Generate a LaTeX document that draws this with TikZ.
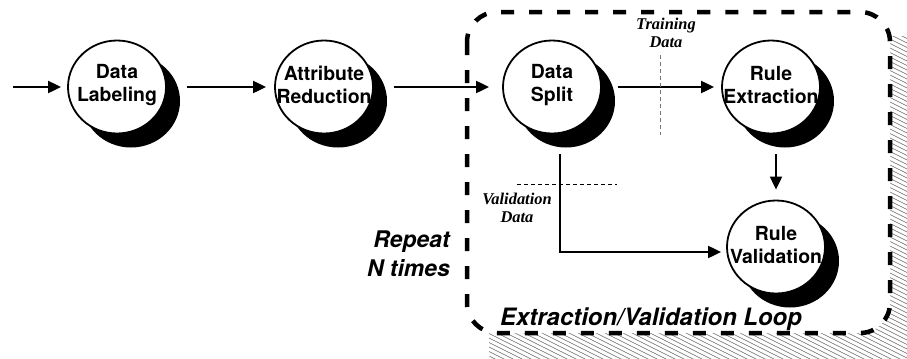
\documentclass[tikz,border=0pt]{standalone}
\usepackage{fontspec}
\setmainfont{TeX Gyre Heros}
\newfontfamily\timesfam{Liberation Serif}
\usetikzlibrary{arrows.meta,shapes.geometric,shadows}
\tikzset{
  proc/.style={ellipse, draw, line width=1.8bp, fill=white,
    minimum width=98bp, minimum height=93bp, inner sep=0pt,
    drop shadow={shadow xshift=14bp, shadow yshift=-14bp, fill=black, opacity=1}},
  proctext/.style={align=center, inner sep=0pt, font=\fontsize{19.5}{23}\selectfont\bfseries},
  arr/.style={line width=2bp, -{Triangle[length=13bp,width=12bp]}},
  datalabel/.style={align=center, inner sep=0pt, font=\timesfam\fontsize{16.5}{18.5}\selectfont\bfseries\itshape},
  thindash/.style={line width=0.8bp, dash pattern=on 4bp off 3bp},
  loopbox/.style={line width=4.5bp, dash pattern=on 13bp off 15bp, rounded corners=30bp, fill=white},
  hatchline/.style={black!60, line width=0.6bp},
  bigitalic/.style={inner sep=0pt, font=\fontsize{23}{29}\selectfont\bfseries\itshape}
}
\begin{document}
\begin{tikzpicture}[x=1bp,y=-1bp]
\useasboundingbox (0,0) rectangle (907,358);

% hatched shadow of loop box
\begin{scope}
  \clip[rounded corners=30bp] (489,36) rectangle (930,380);
  \foreach \c in {-460,-455.5,...,140}
    \draw[hatchline] (470,{0.5*470+\c}) -- (930,{0.5*930+\c});
\end{scope}

% loop box
\draw[loopbox] (467,12) rectangle (890,333);

% process nodes
\node[proc] (DL) at (117,87) {};
\node[proc] (AR) at (324,87) {};
\node[proc] (DS) at (552,87) {};
\node[proc] (RE) at (771,87) {};
\node[proc] (RV) at (776,247) {};

\node[proctext] (DLt) at (117,85) {Data\\Labeling};
\node[proctext] (ARt) at (324,85) {Attribute\\Reduction};
\node[proctext] (DSt) at (552,85) {Data\\Split};
\node[proctext] (REt) at (771,85) {Rule\\Extraction};
\node[proctext] (RVt) at (776,245) {Rule\\Validation};

% connectors
\coordinate (start) at (13,87);
\draw[arr, shorten >=6bp] (start) -- (DL.west);
\draw[arr, shorten <=20bp, shorten >=8bp] (DL.east) -- (AR.west);
\draw[arr, shorten <=20bp, shorten >=13bp] (AR.east) -- (DS.west);
\draw[arr, shorten <=16bp, shorten >=7bp] (DS.east) -- (RE.west);
\draw[arr, shorten >=10bp] (RE.south -| RV.north) ++(0,20) -- (RV.north);
\coordinate (dsdown) at ([xshift=8bp,yshift=-19.5bp]DS.south);
\coordinate (rvin) at ([yshift=-5bp]RV.west);
\draw[arr, shorten >=5bp] (dsdown) |- (rvin);

% data split labels
\coordinate (tdtop) at (660,55);
\coordinate (tdbot) at (660,135);
\draw[thindash, black!55] (tdtop) -- (tdbot);
\node[datalabel] (TD) at (666,33) {Training\\Data};
\coordinate (vdl) at (517,184);
\coordinate (vdr) at (617,184);
\draw[thindash] (vdl) -- (vdr);
\node[datalabel] (VD) at (517,208) {Validation\\Data};

% loop labels
\node[bigitalic, align=right, anchor=east] (rep) at (450,254) {Repeat\\N times};
\node[bigitalic, anchor=base west, font=\fontsize{24}{29}\selectfont\bfseries\itshape] (loop) at (500,325) {Extraction/Validation Loop};
\end{tikzpicture}
\end{document}
